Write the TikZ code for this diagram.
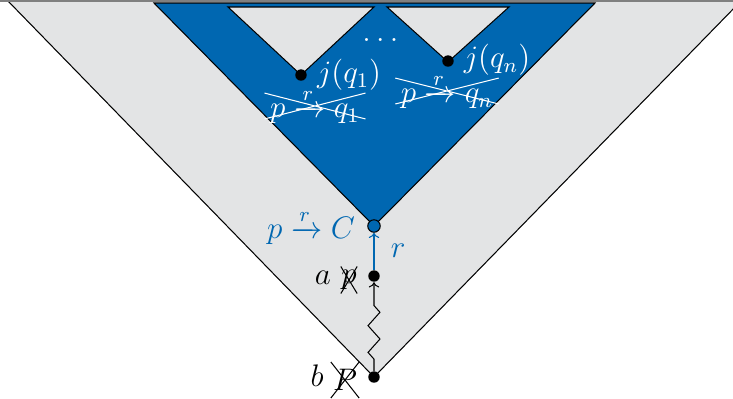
\documentclass[tikz,border=0pt]{standalone}
\usepackage{amsmath}
\usetikzlibrary{shapes.misc,decorations.pathmorphing,arrows.meta}
\definecolor{tblue}{RGB}{0,103,177}
\definecolor{tgray}{RGB}{227,228,229}
\begin{document}
\begin{tikzpicture}[x=0.385pt,y=-0.385pt,
  every node/.style={font=\fontsize{12}{14}\selectfont},
  dot/.style={circle,fill=black,inner sep=0pt,minimum size=4.4pt},
  bdot/.style={circle,fill=tblue,draw=black,inner sep=0pt,minimum size=4.8pt},
  wlab/.style={text=white,inner sep=0pt},
  wxout/.style={cross out,draw=white,text=white,inner xsep=2pt,inner ysep=-2.1pt},
  bxout/.style={cross out,draw=black,inner sep=0pt},
  region/.style={fill=tgray,draw=black},
  cone/.style={fill=tblue,draw=black}]
\useasboundingbox (0,0) rectangle (733,398);
\clip (0,0) rectangle (733,398);
% outer cone
\fill[tgray] (8,1) -- (741,1) -- (374,377) -- cycle;
\draw (8,1) -- (374,377) -- (741,1);
\draw[gray,line width=0.8pt] (0,0.5) -- (733,0.5);
% blue cone
\draw[cone] (154,3) -- (595,3) -- (374,226) -- cycle;
% inner gray cones
\draw[region] (228,7) -- (374,7) -- (301,75) -- cycle;
\draw[region] (387,7) -- (509,7) -- (448,62) -- cycle;
% nodes
\node[dot] (q1) at (301,75) {};
\node[dot] (qn) at (448,61) {};
\node[wlab] (j1) at (349,75) {$j(q_1)$};
\node[wlab] (jn) at (497,60) {$j(q_n)$};
\node[wlab] (dots) at (383,40) {$\dots$};
\node[wxout] (x1) at (315,106) {$p\xrightarrow{r}q_1$};
\node[wxout] (xn) at (447,91) {$p\xrightarrow{r}q_n$};
\node[bdot] (c) at (374,226) {};
\node[text=tblue,inner sep=0pt] (cl) at (311,227) {$p\xrightarrow{r}C$};
\node[dot] (a) at (374,276) {};
\node[dot] (b) at (374,377) {};
\node[inner sep=0pt] (al) at (323,278) {$a$};
\node[bxout,minimum width=5.8pt,minimum height=10pt] (ap) at (349,280) {$p$};
\node[inner sep=0pt] (bl) at (317,376) {$b$};
\node[bxout,minimum width=10.5pt,minimum height=13.5pt] (bp) at (345,380) {$P$};
% connectors
\draw[tblue,-{To[length=2pt,width=4pt]}] (a) -- (c) node[midway,right=3pt,text=tblue] {$r$};
\draw[-{To[length=2pt,width=4pt]},decorate,decoration={zigzag,amplitude=2.3pt,segment length=10.3pt,pre length=4.5pt,post length=8.5pt}] (b) -- (a);
\end{tikzpicture}
\end{document}
